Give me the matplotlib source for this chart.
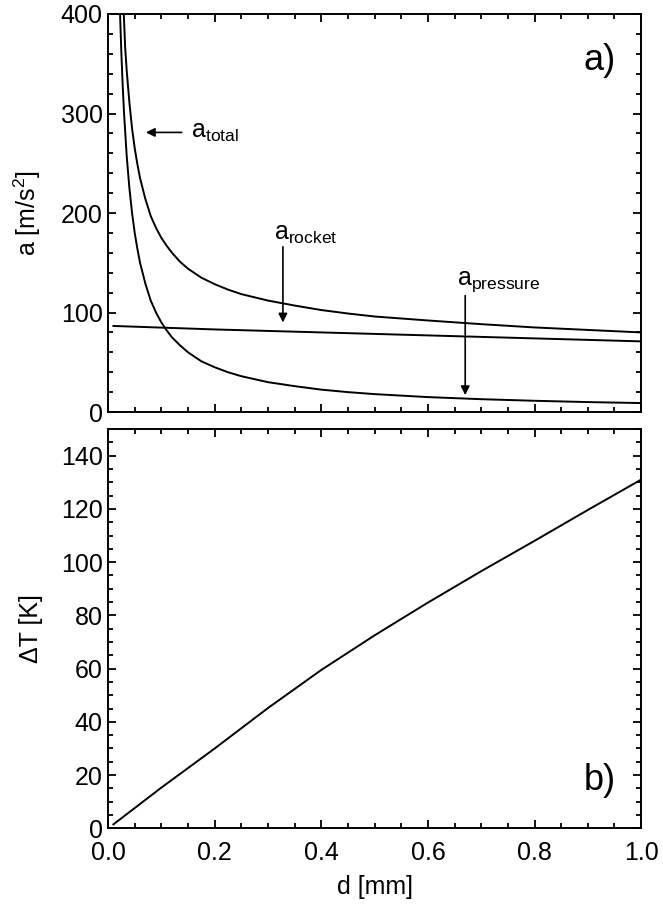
import numpy as np
import matplotlib
matplotlib.use("Agg")
import matplotlib.pyplot as plt
from matplotlib.ticker import MultipleLocator, FormatStrFormatter

plt.rcParams['font.family'] = ['Liberation Sans', 'DejaVu Sans']
plt.rcParams['mathtext.fontset'] = 'custom'
plt.rcParams['mathtext.rm'] = 'Liberation Sans'
plt.rcParams['mathtext.it'] = 'Liberation Sans'

# panel a) accelerations vs. d
d_pressure = [0.0225, 0.025, 0.0275, 0.03, 0.035, 0.04, 0.045, 0.05, 0.055, 0.06,
              0.07, 0.08, 0.09, 0.1, 0.11, 0.12, 0.135, 0.15, 0.175, 0.2, 0.225,
              0.25, 0.3, 0.35, 0.4, 0.45, 0.5, 0.6, 0.7, 0.8, 0.9, 1.0]
a_pressure = [400, 360, 327, 300, 257, 225, 200, 180, 164, 150,
              129, 112, 100, 90, 82, 75, 67, 60, 51, 45, 40,
              36, 30, 26, 22.5, 20, 18, 15, 12.9, 11.3, 10, 9]

d_rocket = [0.01, 0.2, 0.4, 0.6, 0.8, 1.0]
a_rocket = [86.5, 83, 80, 77, 74, 71]

d_total = [0.0295, 0.032, 0.035, 0.04, 0.045, 0.05, 0.055, 0.06, 0.07, 0.08, 0.09,
           0.1, 0.11, 0.12, 0.135, 0.15, 0.175, 0.2, 0.225, 0.25, 0.3, 0.35,
           0.4, 0.45, 0.5, 0.6, 0.7, 0.8, 0.9, 1.0]
a_total = [400, 367, 343, 311, 285, 265, 249, 235, 214, 197, 185,
           175, 167, 160, 151, 144, 135, 128.5, 123, 118.5, 112, 107,
           102.5, 99, 96, 92, 88.3, 85, 82.5, 80]

# panel b) temperature difference vs. d
d_temp = [0.01, 0.1, 0.2, 0.3, 0.4, 0.5, 0.6, 0.7, 0.8, 0.9, 1.0]
dT = [1.5, 15.3, 30, 45.2, 59.5, 72.5, 84.8, 96.6, 108, 119.6, 131]

fig = plt.figure(figsize=(6.63, 9.15), dpi=100)
ax1 = fig.add_axes([0.163, 0.5497, 0.804, 0.435])
ax2 = fig.add_axes([0.163, 0.0947, 0.804, 0.4364])

lw = 1.4
ax1.plot(d_pressure, a_pressure, 'k-', lw=lw)
ax1.plot(d_rocket, a_rocket, 'k-', lw=lw)
ax1.plot(d_total, a_total, 'k-', lw=lw)
ax2.plot(d_temp, dT, 'k-', lw=lw)

ax1.set_xlim(0, 1.0)
ax1.set_ylim(0, 400)
ax2.set_xlim(0, 1.0)
ax2.set_ylim(0, 150)

fs = 18
for ax in (ax1, ax2):
    ax.xaxis.set_major_locator(MultipleLocator(0.2))
    ax.xaxis.set_minor_locator(MultipleLocator(0.05))
    ax.tick_params(which='both', direction='in', top=True, right=True, width=1.3)
    ax.tick_params(which='major', length=6, labelsize=fs, pad=4)
    ax.tick_params(which='minor', length=3.5)
    ax.tick_params(axis='x', which='major', pad=9)
    for s in ax.spines.values():
        s.set_linewidth(1.4)

ax1.yaxis.set_major_locator(MultipleLocator(100))
ax1.yaxis.set_minor_locator(MultipleLocator(20))
ax2.yaxis.set_major_locator(MultipleLocator(20))
ax2.yaxis.set_minor_locator(MultipleLocator(5))
ax1.tick_params(labelbottom=False)
ax2.xaxis.set_major_formatter(FormatStrFormatter('%.1f'))

ax1.set_ylabel('a [m/s$^2$]', fontsize=fs)
ax2.set_ylabel('ΔT [K]', fontsize=fs)
ax2.set_xlabel('d [mm]', fontsize=fs, labelpad=7)
ax1.yaxis.set_label_coords(-0.123, 0.5)
ax2.yaxis.set_label_coords(-0.123, 0.5)

arr = dict(arrowstyle='-|>', color='k', lw=1.2, mutation_scale=13, shrinkA=0, shrinkB=0)
ax1.annotate('', xy=(0.071, 281), xytext=(0.138, 281), arrowprops=arr)
ax1.text(0.155, 281, 'a$_{\\mathrm{total}}$', fontsize=fs, va='center', ha='left')
ax1.annotate('', xy=(0.328, 90), xytext=(0.328, 166), arrowprops=arr)
ax1.text(0.312, 179, 'a$_{\\mathrm{rocket}}$', fontsize=fs, va='center', ha='left')
ax1.annotate('', xy=(0.67, 17), xytext=(0.67, 117), arrowprops=arr)
ax1.text(0.655, 131, 'a$_{\\mathrm{pressure}}$', fontsize=fs, va='center', ha='left')

ax1.text(0.952, 353, 'a)', fontsize=26, va='center', ha='right')
ax2.text(0.952, 18, 'b)', fontsize=26, va='center', ha='right')

fig.savefig('out.png', dpi=100)
